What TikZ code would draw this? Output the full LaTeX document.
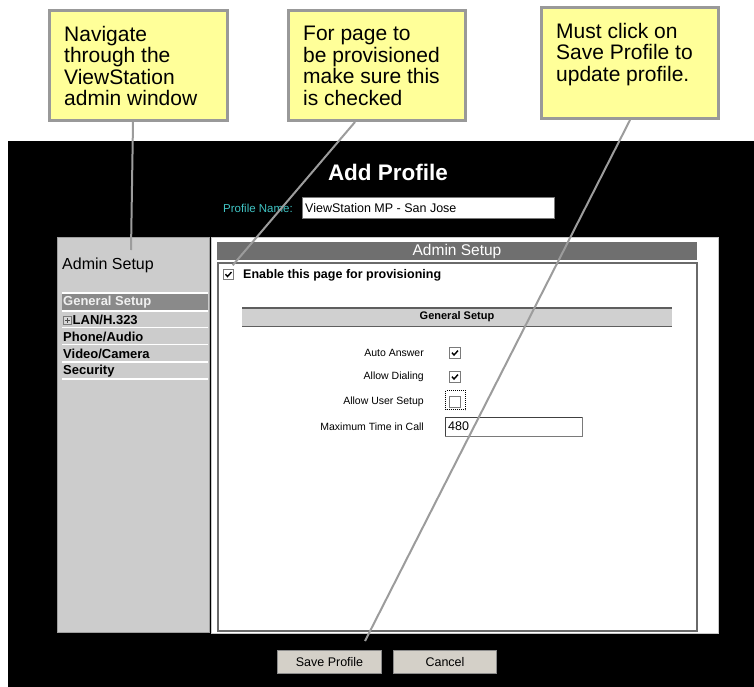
\documentclass[tikz,border=0pt]{standalone}
\usepackage{fontspec}
\setmainfont{Liberation Sans}
\definecolor{calloutyellow}{HTML}{FFFF99}
\definecolor{calloutgray}{HTML}{999999}
\definecolor{leadgray}{HTML}{9C9C9C}
\definecolor{labelteal}{HTML}{40C4C4}
\definecolor{panelgray}{HTML}{CCCCCC}
\definecolor{panelborder}{HTML}{A0A0A0}
\definecolor{hilite}{HTML}{8A8A8A}
\definecolor{headergray}{HTML}{6F6F6F}
\definecolor{innerborder}{HTML}{6A6A6A}
\definecolor{outerborder}{HTML}{C8C8C8}
\definecolor{barlight}{HTML}{D0D0D0}
\definecolor{bardark}{HTML}{5E5E5E}
\definecolor{btnfill}{HTML}{D4D0C8}
\definecolor{btnborder}{HTML}{8C8C8C}
\definecolor{boxgray}{HTML}{7A7A7A}
\begin{document}
\begin{tikzpicture}[x=1pt,y=-1pt,
  callout/.style={draw=calloutgray,line width=3pt,fill=calloutyellow,anchor=north west,inner sep=0pt},
  callouttext/.style={anchor=north west,align=left,inner sep=0pt,font=\fontsize{21}{21.5}\selectfont},
  lead/.style={draw=leadgray,line width=2pt},
  menuitem/.style={anchor=west,inner sep=0pt,font=\bfseries\fontsize{13}{14}\selectfont},
  menusep/.style={draw=white,line width=1.5pt},
  formlabel/.style={anchor=east,inner sep=0pt,font=\fontsize{10.5}{12}\selectfont},
  chk/.style={draw=boxgray,fill=white,line width=0.9pt,minimum size=11pt,inner sep=0pt},
  btn/.style={draw=btnborder,fill=btnfill,line width=1pt,minimum height=23pt,inner sep=0pt,font=\fontsize{12.5}{14}\selectfont,anchor=north west},
  checkmark/.pic={\draw[line width=1.4pt,line cap=butt,line join=miter] (-3,-0.3) -- (-1,2) -- (3,-2.4);}
]
\fill[white] (0,0) rectangle (754,687);
\useasboundingbox (0,0) rectangle (754,687);

% black window
\fill[black] (8,141) rectangle (754,687);

% callouts
\node[callout,minimum width=178pt,minimum height=110pt] (c1) at (48,9) {};
\node[callouttext] (c1t) at ([xshift=16pt,yshift=-17pt]c1.north west) {Navigate\\through the\\ViewStation\\admin window};
\node[callout,minimum width=177pt,minimum height=110pt] (c2) at (287,9) {};
\node[callouttext] (c2t) at ([xshift=16pt,yshift=-17pt]c2.north west) {For page to\\be provisioned\\make sure this\\is checked};
\node[callout,minimum width=177pt,minimum height=111pt] (c3) at (540,6) {};
\node[callouttext] (c3t) at ([xshift=16pt,yshift=-17pt]c3.north west) {Must click on\\Save Profile to\\update profile.};

% title and profile name
\node[font=\bfseries\fontsize{22.5}{24}\selectfont,text=white,inner sep=0pt,anchor=base] (title) at (388,180) {Add Profile};
\node[font=\fontsize{11.5}{13}\selectfont,text=labelteal,anchor=east,inner sep=0pt] (pnlabel) at (293,208) {Profile Name:};
\node[draw=boxgray,fill=white,anchor=north west,minimum width=252pt,minimum height=21pt,inner sep=0pt] (pnfield) at (302,197) {};
\node[anchor=west,inner sep=0pt,font=\fontsize{12.5}{14}\selectfont] (pntext) at (305,208) {ViewStation MP - San Jose};

% left navigation panel
\node[draw=panelborder,fill=panelgray,line width=1pt,anchor=north west,minimum width=152pt,minimum height=395pt,inner sep=0pt] (navpanel) at (57,237) {};
\node[anchor=base west,inner sep=0pt,font=\fontsize{16}{18}\selectfont] (navtitle) at (62,269) {Admin Setup};
\fill[hilite] (62,294) rectangle (208,310);
\foreach \yy in {293,311,327.5,344.5,362,379} \draw[menusep] (62,\yy) -- (208,\yy);
\node[menuitem,text=white!94!black] (mgeneral) at (63,302) {General Setup};
\node[draw=boxgray,fill=white!85!black,line width=0.7pt,minimum size=8pt,inner sep=0pt] (lanicon) at (67.5,320) {};
\draw[line width=0.7pt,draw=black!70] ([xshift=-2.5pt]lanicon.center) -- ([xshift=2.5pt]lanicon.center);
\draw[line width=0.7pt,draw=black!70] ([yshift=-2.5pt]lanicon.center) -- ([yshift=2.5pt]lanicon.center);
\node[menuitem] (mlan) at (72.5,320) {LAN/H.323};
\node[menuitem] (mphone) at (63,337) {Phone/Audio};
\node[menuitem] (mvideo) at (63,354) {Video/Camera};
\node[menuitem] (msec) at (63,371) {Security};

% right main panel
\node[draw=outerborder,fill=white,line width=1pt,anchor=north west,minimum width=507pt,minimum height=396pt,inner sep=0pt] (mainpanel) at (211,237) {};
\fill[headergray] (217,242) rectangle (697,260);
\node[text=white,inner sep=0pt,font=\fontsize{15.5}{17}\selectfont] (hdr) at (457,251) {Admin Setup};
\node[draw=innerborder,line width=1.5pt,anchor=north west,minimum width=479pt,minimum height=368pt,inner sep=0pt] (content) at (217,262) {};

\node[chk,minimum size=9.5pt] (cbEnable) at (228.5,274.5) {};
\pic at (cbEnable.center) {checkmark};
\node[anchor=west,inner sep=0pt,font=\bfseries\fontsize{12.5}{14}\selectfont] (enabletxt) at (243,275) {Enable this page for provisioning};

% General Setup bar
\fill[barlight] (242,307) rectangle (672,327);
\draw[bardark,line width=2pt] (242,308) -- (672,308);
\draw[bardark,line width=1.2pt] (242,326.4) -- (672,326.4);
\node[inner sep=0pt,font=\bfseries\fontsize{11}{13}\selectfont] (gstitle) at (457,317) {General Setup};

% form
\node[formlabel] (lauto) at (424,353) {Auto Answer};
\node[formlabel] (ldial) at (424,377) {Allow Dialing};
\node[formlabel] (luser) at (424,401.5) {Allow User Setup};
\node[formlabel] (ltime) at (424,426.5) {Maximum Time in Call};
\node[chk] (cbAuto) at (455,353) {};
\pic at (cbAuto.center) {checkmark};
\node[chk] (cbDial) at (455,377) {};
\pic at (cbDial.center) {checkmark};
\node[chk] (cbUser) at (455,401.5) {};
\draw[line width=0.8pt,dash pattern=on 1pt off 1pt] (445.5,390.5) rectangle (465.5,409.5);
\node[draw=boxgray,fill=white,line width=1pt,anchor=north west,minimum width=137pt,minimum height=19pt,inner sep=0pt] (timefield) at (445,417) {};
\draw[black!75,line width=1.2pt] (445.6,436) -- (445.6,417.6) -- (582,417.6);
\node[anchor=west,inner sep=0pt,font=\fontsize{12.5}{14}\selectfont] (timetxt) at (448,426.5) {480};

% buttons
\node[btn,minimum width=104pt] (savebtn) at (277,650) {Save Profile};
\node[btn,minimum width=103pt] (cancelbtn) at (393,650) {Cancel};

% connectors
\coordinate (navend) at (131,250);
\coordinate (saveend) at (365,641);
\draw[lead] ([xshift=-5.5pt]c1.south) -- (navend);
\draw[lead] ([xshift=-22pt]c2.south) -- ([shift={(-1pt,4pt)}]cbEnable.north east);
\draw[lead] (c3.south) -- (saveend);
\end{tikzpicture}
\end{document}
